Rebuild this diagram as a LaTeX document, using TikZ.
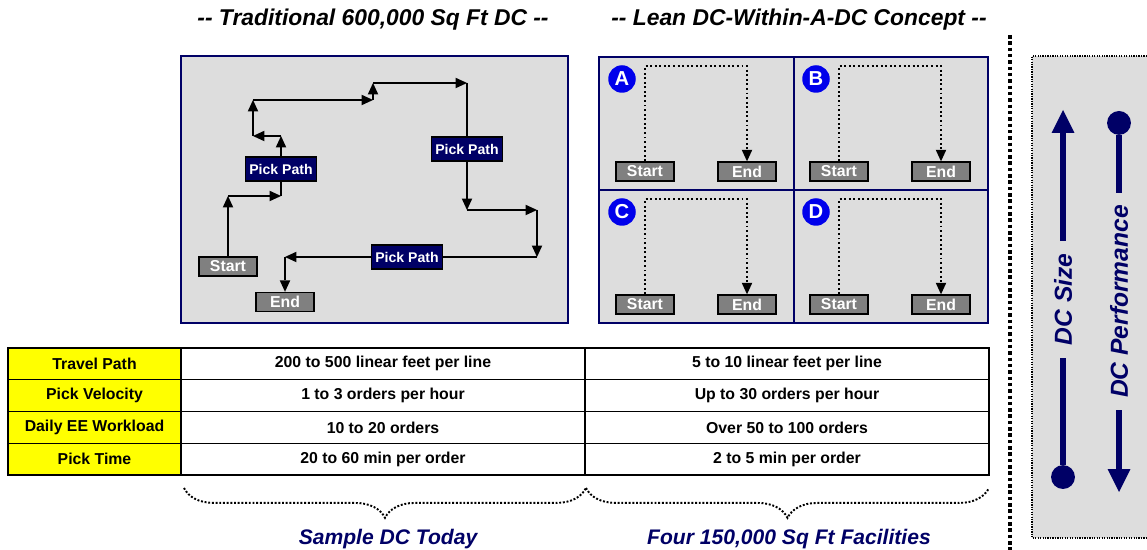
\documentclass[tikz,border=0pt]{standalone}
\usepackage{fontspec}
\setmainfont{Liberation Sans}
\usetikzlibrary{arrows.meta,positioning,decorations.pathreplacing}
\definecolor{dcNavy}{RGB}{0,0,102}
\definecolor{dcBlue}{RGB}{0,0,235}
\definecolor{dcGray}{RGB}{221,221,221}
\definecolor{dcBoxGray}{RGB}{128,128,128}
\definecolor{dcYellow}{RGB}{255,255,0}
\tikzset{
    floor/.style={draw=dcNavy, line width=0.9pt, fill=dcGray},
    endBox/.style={rectangle, draw=black, line width=0.8pt, fill=dcBoxGray,
                   text=white, font=\fontsize{9}{10}\selectfont\bfseries,
                   minimum width=1.16cm, minimum height=0.38cm, inner sep=0pt},
    pickBox/.style={rectangle, draw=black, line width=0.8pt, fill=dcNavy,
                   text=white, font=\fontsize{8}{9}\selectfont\bfseries,
                   minimum width=1.42cm, minimum height=0.48cm, inner sep=0pt},
    pickLine/.style={draw, line width=1.1pt, -{Triangle[length=6.5pt,width=6pt,line width=0pt]}},
    walkLine/.style={draw, line width=1.1pt, dash pattern=on 1.1pt off 1.5pt,
                   -{Triangle[length=6.5pt,width=6pt,line width=0pt]}},
    zoneTag/.style={circle, fill=dcBlue, text=white, font=\fontsize{11.5}{12}\selectfont\bfseries,
                   minimum size=0.55cm, inner sep=0pt},
    cellLab/.style={rectangle, draw=black, line width=0.8pt, fill=dcYellow, outer sep=0pt,
                   minimum width=3.46cm, minimum height=0.635cm, font=\fontsize{9}{10}\selectfont\bfseries},
    cellVal/.style={rectangle, draw=black, line width=0.8pt, fill=white, outer sep=0pt,
                   minimum width=8.08cm, minimum height=0.635cm, font=\fontsize{9}{10}\selectfont\bfseries},
    headText/.style={font=\fontsize{13}{15}\selectfont\bfseries\itshape},
    footText/.style={font=\fontsize{12}{14}\selectfont\bfseries\itshape, text=dcNavy},
    braceLine/.style={draw, line width=1.1pt, dash pattern=on 1.1pt off 1pt, decorate,
                   decoration={brace, mirror, amplitude=17pt}},
    scaleArrow/.style={draw=dcNavy, line width=3.4pt},
    scaleText/.style={font=\fontsize{14}{16}\selectfont\bfseries\itshape, text=dcNavy,
                   fill=dcGray, rotate=90, inner xsep=7pt, inner ysep=2pt}
}

\begin{document}
\begin{tikzpicture}[x=0.02cm, y=-0.02cm]
  \useasboundingbox (0,0) rectangle (1147,550);

  % headings
  \node[headText] (oldHead) at (373,20) {-{}- Traditional 600,000 Sq Ft DC -{}-};
  \node[headText] (leanHead) at (799,20) {-{}- Lean DC-Within-A-DC Concept -{}-};

  % traditional DC floor
  \draw[floor] (181,56) rectangle (568,323);
  \node[endBox] (st) at (228,266.5) {Start};
  \node[endBox] (en) at (285,302) {End};
  \node[pickBox] (pk1) at (281,169) {Pick Path};
  \node[pickBox] (pk2) at (467,149) {Pick Path};
  \node[pickBox] (pk3) at (407,257) {Pick Path};
  \coordinate (c1) at (228,196);
  \coordinate (c2) at (281,196);
  \coordinate (c3) at (281,136);
  \coordinate (c4) at (253,136);
  \coordinate (c5) at (253,100);
  \coordinate (c6) at (373,100);
  \coordinate (c7) at (373,83);
  \coordinate (c8) at (467,83);
  \coordinate (c9) at (467,210);
  \coordinate (c10) at (537,210);
  \coordinate (c11) at (537,257);
  \coordinate (c12) at (285,257);
  \draw[pickLine] (st) -- (c1);
  \draw[pickLine] (c1) -- (c2);
  \draw[line width=1.1pt] (c2) -- (pk1);
  \draw[pickLine] (pk1) -- (c3);
  \draw[pickLine] (c3) -- (c4);
  \draw[pickLine] (c4) -- (c5);
  \draw[pickLine] (c5) -- (c6);
  \draw[pickLine] (c6) -- (c7);
  \draw[pickLine] (c7) -- (c8);
  \draw[line width=1.1pt] (c8) -- (pk2);
  \draw[pickLine] (pk2) -- (c9);
  \draw[pickLine] (c9) -- (c10);
  \draw[pickLine] (c10) -- (c11);
  \draw[line width=1.1pt] (c11) -- (pk3);
  \draw[pickLine] (pk3) -- (c12);
  \draw[pickLine] (c12) -- (en);

  % four small DCs
  \draw[floor] (599,57) rectangle (988,323);
  \draw[dcNavy, line width=0.9pt] (794,57) -- (794,323);
  \draw[dcNavy, line width=0.9pt] (599,190) -- (988,190);
  \foreach \l/\dx/\dy in {A/0/0, B/194/0, C/0/133, D/194/133} {
    \node[zoneTag] (tag\l) at (622+\dx,79+\dy) {\l};
    \node[endBox] (start\l) at (645+\dx,171.5+\dy) {Start};
    \node[endBox] (end\l) at (747+\dx,171.5+\dy) {End};
    \coordinate (top\l) at (645+\dx,66+\dy);
    \draw[walkLine] (start\l) -- (top\l) -| (end\l);
  }

  % comparison table
  \foreach \lab/\old/\new [count=\i] in {
      Travel Path/200 to 500 linear feet per line/5 to 10 linear feet per line,
      Pick Velocity/1 to 3 orders per hour/Up to 30 orders per hour,
      Daily EE Workload/10 to 20 orders/Over 50 to 100 orders,
      Pick Time/20 to 60 min per order/2 to 5 min per order} {
    \node[cellLab] (lab\i) at (94.5,332.125+31.75*\i) {\lab};
    \node[cellVal] (old\i) at (383,332.125+31.75*\i) {\old};
    \node[cellVal] (new\i) at (787,332.125+31.75*\i) {\new};
  }

  % braces
  \coordinate (bL) at (184,488);
  \coordinate (bM) at (586,488);
  \coordinate (bR) at (989,488);
  \draw[braceLine] (bL) -- (bM);
  \draw[braceLine] (bM) -- (bR);
  \node[footText] (today) at (388,539) {Sample DC Today};
  \node[footText] (four) at (789,539) {Four 150,000 Sq Ft Facilities};

  % size vs performance
  \draw[black, line width=2pt, dash pattern=on 2pt off 1.6pt] (1010,35) -- (1010,550);
  \fill[dcGray] (1032,56) rectangle (1147,538);
  \draw[line width=0.6pt, dash pattern=on 0.7pt off 0.7pt] (1147,56) -- (1032,56) -- (1032,538) -- (1147,538);
  \coordinate (sizeLow) at (1063,489);
  \coordinate (sizeHigh) at (1063,110);
  \coordinate (perfHigh) at (1119,111);
  \coordinate (perfLow) at (1119,492);
  \draw[scaleArrow, {Circle[length=13.6pt,line width=0pt]}-{Triangle[length=13pt,width=13pt,line width=0pt]}]
    (sizeLow) -- node[scaleText] (sizeTag) {DC Size} (sizeHigh);
  \draw[scaleArrow, {Circle[length=13.6pt,line width=0pt]}-{Triangle[length=13pt,width=13pt,line width=0pt]}]
    (perfHigh) -- node[scaleText] (perfTag) {DC Performance} (perfLow);
\end{tikzpicture}
\end{document}
